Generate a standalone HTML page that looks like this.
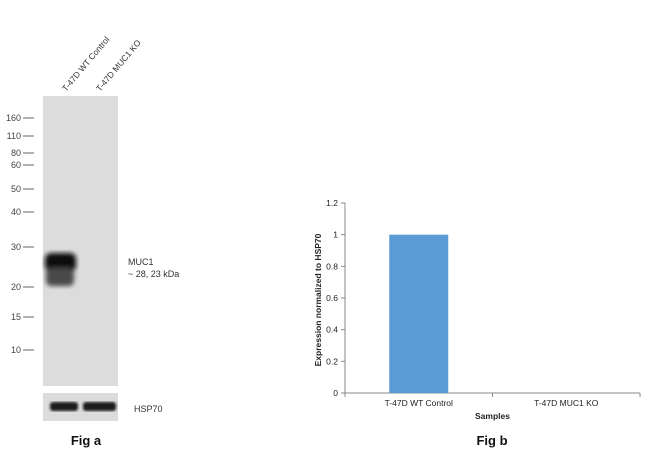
<!DOCTYPE html>
<html><head><meta charset="utf-8"><style>
body{margin:0;background:#fff;width:650px;height:455px;overflow:hidden;font-family:"Liberation Sans",Arial,sans-serif;}
svg{display:block}
</style></head><body>
<svg width="650" height="455" xmlns="http://www.w3.org/2000/svg">
<defs>
<filter id="blur2"><feGaussianBlur stdDeviation="2.5"/></filter>
<filter id="blur1"><feGaussianBlur stdDeviation="1.3"/></filter>
</defs>
<g>
  <text x="66" y="92" font-size="8.5" fill="#333" transform="rotate(-50 66 92)">T-47D WT Control</text>
  <text x="100" y="92" font-size="8.5" fill="#333" transform="rotate(-50 100 92)">T-47D MUC1 KO</text>
  <rect x="43" y="96" width="75" height="290" fill="#dcdcdc"/>
  <g filter="url(#blur2)">
    <rect x="45" y="253" width="31" height="19" rx="6" fill="#111"/>
    <rect x="46" y="268" width="28" height="18" rx="5" fill="#4a4a4a"/>
  </g>
  <g id="markers"></g>
  <rect x="43" y="393" width="75" height="28" fill="#dcdcdc"/>
  <g filter="url(#blur1)">
    <rect x="50" y="402" width="28" height="9" rx="3" fill="#1a1a1a"/>
    <rect x="83" y="402" width="33" height="9" rx="3" fill="#1a1a1a"/>
  </g>
  <text x="128" y="265" font-size="9" fill="#333">MUC1</text>
  <text x="128" y="277" font-size="9" fill="#333">~ 28, 23 kDa</text>
  <text x="134" y="412" font-size="9" fill="#333">HSP70</text>
  <text x="86" y="445" font-size="13" font-weight="bold" text-anchor="middle" fill="#111">Fig a</text>
</g>
<g id="chart"></g>
<text x="492" y="445" font-size="13" font-weight="bold" text-anchor="middle" fill="#111">Fig b</text>
</svg>
<script>
const markerLabels=["160","110","80","60","50","40","30","20","15","10"];
const markerY=[118,136,153,165,189,212,247,287,317,350];
const categories=["T-47D WT Control","T-47D MUC1 KO"];
const values=[1,0];
const yTicks=[0,0.2,0.4,0.6,0.8,1,1.2];
const NS="http://www.w3.org/2000/svg";
function mk(t,a,p){const e=document.createElementNS(NS,t);for(const k in a)e.setAttribute(k,a[k]);p.appendChild(e);return e;}
const mg=document.getElementById('markers');
markerLabels.forEach((l,i)=>{
  const t=mk('text',{x:21,y:markerY[i]+3,'font-size':9,'text-anchor':'end',fill:'#444'},mg);
  t.textContent=l;
  
  
  const ln=mk('line',{x1:23,x2:34,y1:markerY[i],y2:markerY[i],stroke:'#666','stroke-width':1},mg);
  
  
});
const g=document.getElementById('chart');
const x0=345,x1=640,yb=393,yt=203,ymax=1.2;
const y=v=>yb-(v/ymax)*(yb-yt);
const bw=(x1-x0)/categories.length;
const ax=mk('line',{x1:x0,x2:x0,y1:yt,y2:yb,stroke:'#888'},g);

const bx=mk('line',{x1:x0,x2:x1,y1:yb,y2:yb,stroke:'#888'},g);

yTicks.forEach(v=>{
  const tk=mk('line',{x1:x0-4,x2:x0,y1:y(v),y2:y(v),stroke:'#888'},g);
  
  const t=mk('text',{x:x0-7,y:y(v)+3,'font-size':8.5,'text-anchor':'end',fill:'#222'},g);
  t.textContent=String(v);
  
});
for(let i=0;i<=categories.length;i++){
  const tk=mk('line',{x1:x0+i*bw,x2:x0+i*bw,y1:yb,y2:yb+4,stroke:'#888'},g);
  
}
categories.forEach((c,i)=>{
  const cx=x0+bw*(i+0.5);
  const w=59;
  if(values[i]>0){
    const r=mk('rect',{x:cx-w/2,y:y(values[i]),width:w,height:yb-y(values[i]),fill:'#5b9bd5'},g);
    
    
  }
  const t=mk('text',{x:cx,y:406,'font-size':8.5,'text-anchor':'middle',fill:'#222'},g);
  t.textContent=c;
  
});
const xt=mk('text',{x:(x0+x1)/2,y:419,'font-size':8.5,'font-weight':'bold','text-anchor':'middle',fill:'#222'},g);
xt.textContent='Samples';

const yti=mk('text',{x:321,y:(yt+yb)/2+2,'font-size':8.5,'font-weight':'bold','text-anchor':'middle',fill:'#222',transform:'rotate(-90 321 '+((yt+yb)/2+2)+')'},g);
yti.textContent='Expression normalized to HSP70';

</script>
</body></html>
